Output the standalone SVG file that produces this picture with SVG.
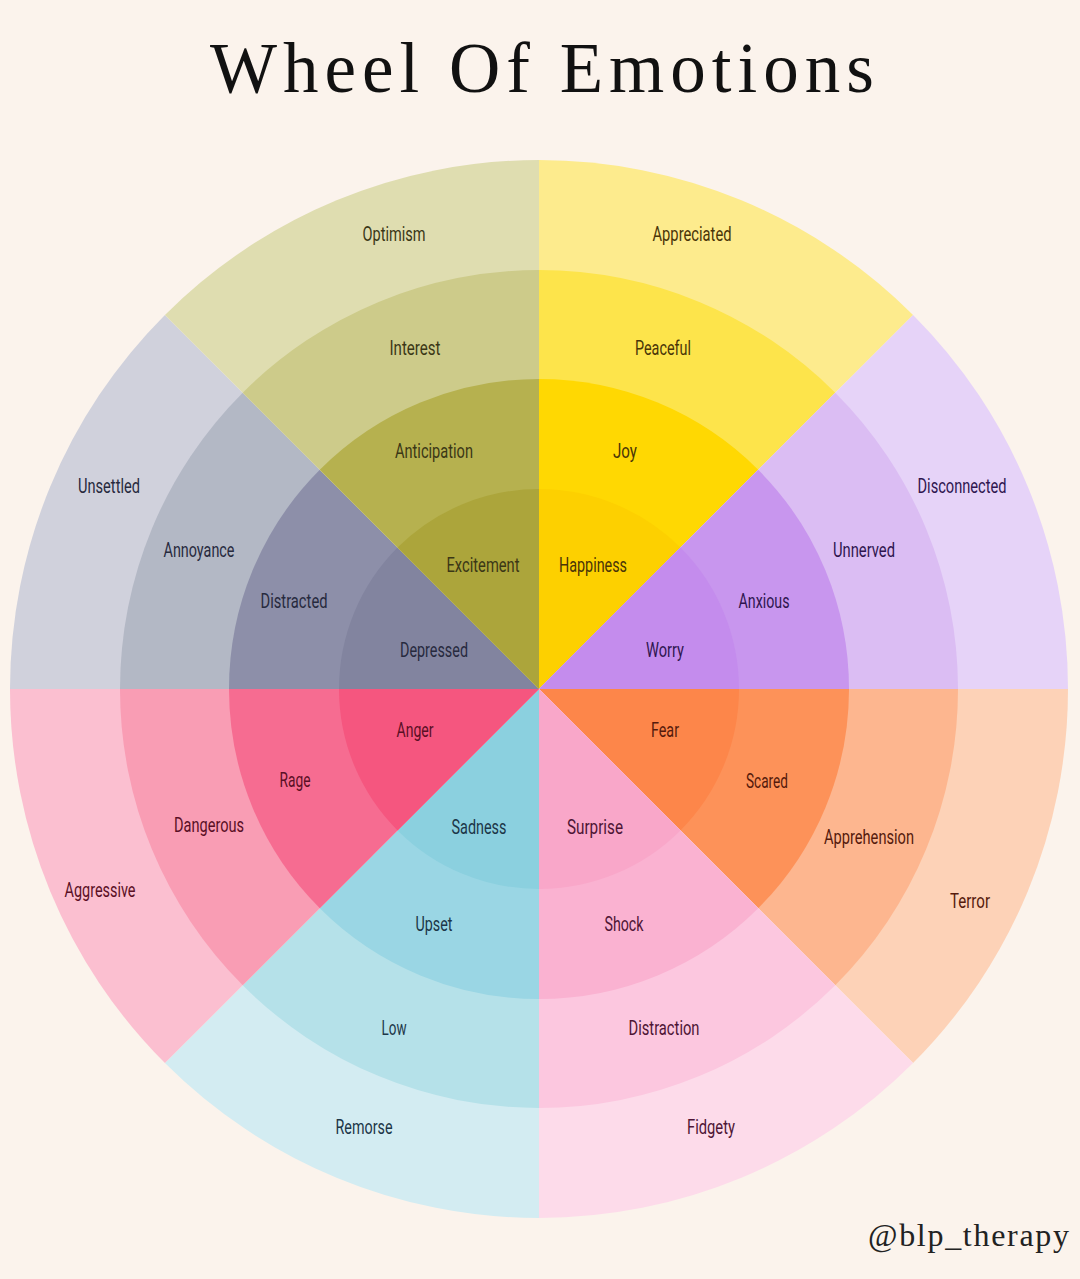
<svg xmlns="http://www.w3.org/2000/svg" width="1080" height="1279" viewBox="0 0 1080 1279">
<defs>
<path id="w4" d="M0 0 V-529 A529 529 0 0 1 374.06 -374.06 Z"/>
<path id="w3" d="M0 0 V-419 A419 419 0 0 1 296.28 -296.28 Z"/>
<path id="w2" d="M0 0 V-310 A310 310 0 0 1 219.2 -219.2 Z"/>
<path id="w1" d="M0 0 V-200 A200 200 0 0 1 141.42 -141.42 Z"/>
<style>
.t{font-family:Roboto,"Liberation Sans",sans-serif;font-size:19.5px;text-anchor:middle}
.t text{lengthAdjust:spacingAndGlyphs}
.title{font-family:"Liberation Serif","DejaVu Serif",serif;font-size:71px;letter-spacing:6px;fill:#111;text-anchor:middle}
.wm{font-family:"Liberation Serif","DejaVu Serif",serif;font-size:32px;letter-spacing:1.7px;fill:#222}
</style>
</defs>
<rect width="1080" height="1279" fill="#fbf3ec"/>
<text class="title" x="545" y="92">Wheel Of Emotions</text>

<g id="happiness" transform="translate(539 689)">
<use href="#w4" fill="#fdeb8d"/><use href="#w3" fill="#fde44b"/><use href="#w2" fill="#ffd802"/><use href="#w1" fill="#fdd000"/>
</g>
<g id="worry" transform="translate(539 689) rotate(45)">
<use href="#w4" fill="#e6d3f8"/><use href="#w3" fill="#dbbdf3"/><use href="#w2" fill="#c896ee"/><use href="#w1" fill="#c48ced"/>
</g>
<g id="fear" transform="translate(539 689) rotate(90)">
<use href="#w4" fill="#fdd2b7"/><use href="#w3" fill="#fdb68f"/><use href="#w2" fill="#fd9259"/><use href="#w1" fill="#fd864a"/>
</g>
<g id="surprise" transform="translate(539 689) rotate(135)">
<use href="#w4" fill="#fddbea"/><use href="#w3" fill="#fcc7df"/><use href="#w2" fill="#fab2d1"/><use href="#w1" fill="#f9a7c9"/>
</g>
<g id="sadness" transform="translate(539 689) rotate(180)">
<use href="#w4" fill="#d3ecf2"/><use href="#w3" fill="#b5e1e9"/><use href="#w2" fill="#9ad6e4"/><use href="#w1" fill="#8bd0df"/>
</g>
<g id="anger" transform="translate(539 689) rotate(225)">
<use href="#w4" fill="#fbbfd0"/><use href="#w3" fill="#f99db4"/><use href="#w2" fill="#f66c91"/><use href="#w1" fill="#f5567f"/>
</g>
<g id="depressed" transform="translate(539 689) rotate(270)">
<use href="#w4" fill="#d0d1dc"/><use href="#w3" fill="#b3b8c5"/><use href="#w2" fill="#8d8fa9"/><use href="#w1" fill="#82849f"/>
</g>
<g id="excitement" transform="translate(539 689) rotate(315)">
<use href="#w4" fill="#dfddb0"/><use href="#w3" fill="#cdcb8a"/><use href="#w2" fill="#b6b14f"/><use href="#w1" fill="#aca53b"/>
</g>

<g id="labels" class="t">
<g fill="#3b3716">
<text x="394" y="241" textLength="63" lengthAdjust="spacingAndGlyphs">Optimism</text>
<text x="415" y="355" textLength="51" lengthAdjust="spacingAndGlyphs">Interest</text>
<text x="434" y="458" textLength="78" lengthAdjust="spacingAndGlyphs">Anticipation</text>
<text x="483" y="572" textLength="73" lengthAdjust="spacingAndGlyphs">Excitement</text>
</g>
<g fill="#4a3508">
<text x="692" y="241" textLength="79" lengthAdjust="spacingAndGlyphs">Appreciated</text>
<text x="663" y="355" textLength="56" lengthAdjust="spacingAndGlyphs">Peaceful</text>
<text x="625" y="458" textLength="24" lengthAdjust="spacingAndGlyphs">Joy</text>
<text x="593" y="572" textLength="68" lengthAdjust="spacingAndGlyphs">Happiness</text>
</g>
<g fill="#2f1650">
<text x="962" y="493" textLength="89" lengthAdjust="spacingAndGlyphs">Disconnected</text>
<text x="864" y="557" textLength="62" lengthAdjust="spacingAndGlyphs">Unnerved</text>
<text x="764" y="608" textLength="51" lengthAdjust="spacingAndGlyphs">Anxious</text>
<text x="665" y="657" textLength="38" lengthAdjust="spacingAndGlyphs">Worry</text>
</g>
<g fill="#272a3e">
<text x="109" y="493" textLength="62" lengthAdjust="spacingAndGlyphs">Unsettled</text>
<text x="199" y="557" textLength="71" lengthAdjust="spacingAndGlyphs">Annoyance</text>
<text x="294" y="608" textLength="67" lengthAdjust="spacingAndGlyphs">Distracted</text>
<text x="434" y="657" textLength="68" lengthAdjust="spacingAndGlyphs">Depressed</text>
</g>
<g fill="#5a0f25">
<text x="415" y="737" textLength="37" lengthAdjust="spacingAndGlyphs">Anger</text>
<text x="295" y="787" textLength="31" lengthAdjust="spacingAndGlyphs">Rage</text>
<text x="209" y="832" textLength="70" lengthAdjust="spacingAndGlyphs">Dangerous</text>
<text x="100" y="897" textLength="71" lengthAdjust="spacingAndGlyphs">Aggressive</text>
</g>
<g fill="#551a0c">
<text x="665" y="737" textLength="28" lengthAdjust="spacingAndGlyphs">Fear</text>
<text x="767" y="788" textLength="42" lengthAdjust="spacingAndGlyphs">Scared</text>
<text x="869" y="844" textLength="90" lengthAdjust="spacingAndGlyphs">Apprehension</text>
<text x="970" y="908" textLength="40" lengthAdjust="spacingAndGlyphs">Terror</text>
</g>
<g fill="#1c3648">
<text x="479" y="834" textLength="55" lengthAdjust="spacingAndGlyphs">Sadness</text>
<text x="434" y="931" textLength="37" lengthAdjust="spacingAndGlyphs">Upset</text>
<text x="394" y="1035" textLength="25" lengthAdjust="spacingAndGlyphs">Low</text>
<text x="364" y="1134" textLength="57" lengthAdjust="spacingAndGlyphs">Remorse</text>
</g>
<g fill="#4e1535">
<text x="595" y="834" textLength="56" lengthAdjust="spacingAndGlyphs">Surprise</text>
<text x="624" y="931" textLength="39" lengthAdjust="spacingAndGlyphs">Shock</text>
<text x="664" y="1035" textLength="71" lengthAdjust="spacingAndGlyphs">Distraction</text>
<text x="711" y="1134" textLength="48" lengthAdjust="spacingAndGlyphs">Fidgety</text>
</g>
</g>
<text class="wm" x="868" y="1246">@blp_therapy</text>
</svg>
